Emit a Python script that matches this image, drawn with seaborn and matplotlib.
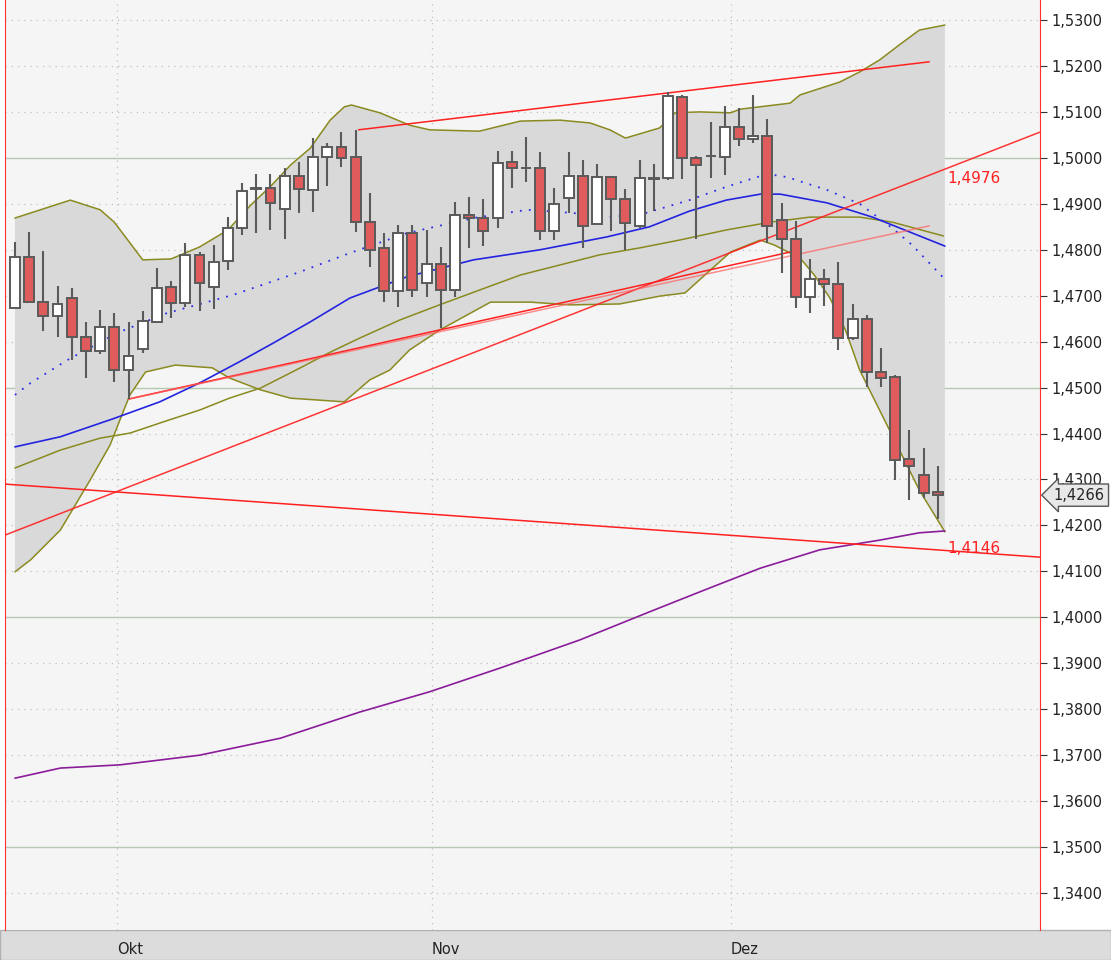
import matplotlib
matplotlib.use("Agg")
import matplotlib.pyplot as plt
import seaborn as sns
import numpy as np
import pandas as pd
from matplotlib.patches import Rectangle

# ---- daily candles (index 0..65) ----
opens = [1.4673,1.4784,1.4686,1.4656,1.4695,1.4610,1.4580,1.4632,1.4538,1.4584,
         1.4643,1.4719,1.4684,1.4789,1.4719,1.4776,1.4847,1.4934,1.4934,1.4889,
         1.4961,1.4930,1.5002,1.5024,1.5002,1.4860,1.4804,1.4710,1.4837,1.4728,
         1.4769,1.4712,1.4876,1.4869,1.4869,1.4991,1.4978,1.4978,1.4841,1.4913,
         1.4961,1.4856,1.4958,1.4910,1.4852,1.4956,1.4956,1.5132,1.5000,1.5004,
         1.5002,1.5067,1.5041,1.5048,1.4865,1.4823,1.4697,1.4736,1.4726,1.4608,
         1.4649,1.4534,1.4523,1.4345,1.4310,1.4273]
highs = [1.4817,1.4839,1.4797,1.4721,1.4717,1.4643,1.4669,1.4662,1.4643,1.4667,
         1.4760,1.4732,1.4815,1.4795,1.4810,1.4871,1.4945,1.4965,1.4965,1.4978,
         1.4991,1.5043,1.5032,1.5056,1.5061,1.4924,1.4837,1.4854,1.4854,1.4843,
         1.4806,1.4904,1.4915,1.4910,1.5015,1.5015,1.5045,1.5013,1.4934,1.5013,
         1.4995,1.4987,1.4961,1.4932,1.4995,1.4987,1.5143,1.5137,1.5004,1.5078,
         1.5113,1.5109,1.5137,1.5085,1.4902,1.4863,1.4780,1.4758,1.4773,1.4682,
         1.4658,1.4586,1.4528,1.4408,1.4369,1.4330]
lows = [1.4670,1.4684,1.4623,1.4610,1.4560,1.4521,1.4573,1.4512,1.4475,1.4575,
        1.4640,1.4652,1.4675,1.4667,1.4671,1.4756,1.4832,1.4837,1.4843,1.4823,
        1.4880,1.4882,1.4939,1.4980,1.4839,1.4763,1.4686,1.4675,1.4697,1.4697,
        1.4630,1.4697,1.4804,1.4808,1.4847,1.4934,1.4947,1.4821,1.4821,1.4880,
        1.4804,1.4854,1.4841,1.4800,1.4847,1.4884,1.4952,1.4954,1.4823,1.4956,
        1.4963,1.5026,1.5032,1.4815,1.4749,1.4673,1.4662,1.4678,1.4582,1.4604,
        1.4501,1.4501,1.4299,1.4255,1.4260,1.4214]
closes = [1.4784,1.4686,1.4656,1.4682,1.4610,1.4580,1.4632,1.4538,1.4569,1.4645,
          1.4717,1.4684,1.4789,1.4728,1.4773,1.4847,1.4928,1.4933,1.4902,1.4961,
          1.4932,1.5002,1.5024,1.5000,1.4860,1.4800,1.4710,1.4837,1.4712,1.4769,
          1.4712,1.4876,1.4869,1.4841,1.4989,1.4978,1.4977,1.4841,1.4900,1.4961,
          1.4852,1.4958,1.4910,1.4858,1.4956,1.4955,1.5135,1.5000,1.4984,1.5003,
          1.5067,1.5041,1.5048,1.4852,1.4823,1.4697,1.4736,1.4726,1.4608,1.4649,
          1.4534,1.4521,1.4343,1.4330,1.4271,1.4266]

# ---- indicator lines: (index, price) vertices ----
upper_x = [0,2.8,3.9,6,7,9,11,13,15,16.6,18.1,19.4,20.8,22.2,23.2,23.7,25.7,27.8,29.2,32.7,35.6,38.4,40.5,41.9,43,45.4,46.5,48.2,50.4,51.1,54.6,55.3,58.1,59.5,60.9,62.3,63.7,65.5]
upper_y = [1.4869,1.4897,1.4908,1.4887,1.4860,1.4778,1.4780,1.4806,1.4843,1.4897,1.4941,1.4984,1.5021,1.5082,1.5111,1.5115,1.5098,1.5071,1.5061,1.5058,1.5080,1.5082,1.5076,1.5061,1.5043,1.5065,1.5098,1.5100,1.5098,1.5106,1.5119,1.5137,1.5165,1.5187,1.5213,1.5246,1.5278,1.5289]
lower_x = [0,1.1,3.2,5.3,6.7,7.4,8.1,9.2,11.3,13.9,15.1,17.3,19.4,23.2,25,26.4,27.8,29.9,33.5,36.3,39.1,42.6,45.4,47.2,48.2,50.4,52.5,53.5,55.3,56.3,57.4,58.5,59.5,60.9,62.3,63.7,65.5]
lower_y = [1.4099,1.4125,1.4190,1.4299,1.4375,1.4430,1.4484,1.4534,1.4549,1.4543,1.4521,1.4495,1.4477,1.4469,1.4517,1.4538,1.4582,1.4625,1.4686,1.4686,1.4680,1.4682,1.4699,1.4706,1.4734,1.4795,1.4821,1.4810,1.4782,1.4745,1.4695,1.4625,1.4538,1.4451,1.4364,1.4277,1.4186]
mid_x = [0,3.2,6,8.1,10.9,13,15.1,17.3,20.1,22.2,24.3,27.1,29.9,32.7,35.6,38.4,41.2,44,46.8,50.1,53.2,56,59.5,61.8,65.4]
mid_y = [1.4325,1.4364,1.4390,1.4401,1.4430,1.4451,1.4477,1.4499,1.4543,1.4577,1.4608,1.4647,1.4680,1.4712,1.4745,1.4767,1.4789,1.4804,1.4821,1.4843,1.4860,1.4871,1.4871,1.4860,1.4830]
sma_x = [0,3.2,6.9,10.2,13,15.8,18.2,20.8,23.6,27.6,32.3,37,41.7,44.7,47.5,50.1,52.5,53.9,57.2,60.4,65.5]
sma_y = [1.4371,1.4393,1.4432,1.4469,1.4510,1.4556,1.4597,1.4643,1.4695,1.4741,1.4778,1.4800,1.4828,1.4850,1.4884,1.4908,1.4921,1.4921,1.4902,1.4871,1.4808]
dot_x = [0,1.1,3.7,7.2,10.7,15.4,20.1,23.6,27.6,32.3,36.1,39.3,41.7,44,47.5,50.1,53,54.4,57.2,59.5,61.8,63.2,65.4]
dot_y = [1.4484,1.4510,1.4560,1.4619,1.4662,1.4702,1.4752,1.4793,1.4836,1.4869,1.4887,1.4880,1.4871,1.4876,1.4908,1.4937,1.4965,1.4958,1.4930,1.4900,1.4847,1.4810,1.4739]
long_x = [0,3.2,7.4,13,18.7,24.3,29.2,34.2,39.8,44.7,48.2,52.5,56.7,60.9,63.7,65.5]
long_y = [1.3650,1.3672,1.3679,1.3700,1.3737,1.3794,1.3838,1.3890,1.3951,1.4012,1.4055,1.4107,1.4147,1.4168,1.4184,1.4188]

# trendlines: (x0, y0, x1, y1)
trend_top = (24.2, 1.5061, 64.4, 1.5209)
trend_long = (-0.7, 1.4179, 72.2, 1.5056)
trend_a = (8.0, 1.4475, 54.6, 1.4795)
trend_b = (8.0, 1.4475, 64.4, 1.4852)
trend_down = (-0.7, 1.4290, 72.2, 1.4131)

month_pos = [7.18, 29.37, 50.42]
month_labels = ["Okt", "Nov", "Dez"]
yticks = [1.34 + 0.01 * i for i in range(20)]

sns.set_style("white")
plt.rcParams['font.family'] = ['DejaVu Sans']

W, H = 1111, 960
fig = plt.figure(figsize=(W / 100, H / 100), dpi=100)
fig.patch.set_facecolor("white")
fig.patches.append(Rectangle((0, 0), 1, 30 / H, transform=fig.transFigure,
                             facecolor="#dcdcdc", edgecolor="#b0b0b0", zorder=-5))
ax = fig.add_axes([5 / W, 30 / H, 1035 / W, 930 / H])
ax.set_zorder(2)
ax.set_facecolor("#f5f5f5")
ax.set_xlim(-0.7, 72.2)
ax.set_ylim(1.33196, 1.53435)

for yt in yticks:
    if round(yt * 100) % 5 == 0:
        ax.axhline(yt, color="#b5c9b0", lw=1.0, zorder=1)
    else:
        ax.axhline(yt, color="#c0c0c0", lw=0.9, ls=(0, (1, 4)), zorder=1)
for mp in month_pos:
    ax.axvline(mp, color="#c0c0c0", lw=0.9, ls=(0, (1, 4)), zorder=1)

ax.fill(np.concatenate([upper_x, lower_x[::-1]]),
        np.concatenate([upper_y, lower_y[::-1]]),
        color="#d9d9d9", zorder=2, lw=0)
sns.lineplot(x=upper_x, y=upper_y, ax=ax, color="#8a8a20", lw=1.1, zorder=3, sort=False)
sns.lineplot(x=lower_x, y=lower_y, ax=ax, color="#8a8a20", lw=1.1, zorder=3, sort=False)
sns.lineplot(x=mid_x, y=mid_y, ax=ax, color="#8a8a20", lw=1.1, zorder=3, sort=False)
sns.lineplot(x=sma_x, y=sma_y, ax=ax, color="#2424e0", lw=1.2, zorder=3, sort=False)
ax.plot(dot_x, dot_y, color="#2a2ae8", lw=1.3, ls=(0, (1, 4)), zorder=3)
sns.lineplot(x=long_x, y=long_y, ax=ax, color="#8a1c9a", lw=1.2, zorder=3, sort=False)

for (x0, y0, x1, y1), c, a in [(trend_top, "#ff2020", 1), (trend_long, "#ff2020", 0.9),
                               (trend_a, "#ff2020", 1), (trend_b, "#ff6060", 0.7),
                               (trend_down, "#ff2020", 1)]:
    ax.plot([x0, x1], [y0, y1], color=c, alpha=a, lw=1.1, zorder=4)

w = 0.7
for i in range(len(opens)):
    o, h, l, c = opens[i], highs[i], lows[i], closes[i]
    ax.vlines(i, l, h, color="#5a5a5a", lw=1.5, zorder=5)
    bot, top = min(o, c), max(o, c)
    hgt = max(top - bot, 0.00008)
    fc = "white" if c >= o else "#e05c5c"
    ax.add_patch(Rectangle((i - w / 2, bot), w, hgt, facecolor=fc,
                           edgecolor="#5a5a5a", lw=1.4, zorder=6))

ax.text(65.7, 1.4976 - 0.0005, "1,4976", color="#ff2020", fontsize=11, va="top", zorder=7)
ax.text(65.7, 1.4146 + 0.0003, "1,4146", color="#ff2020", fontsize=11, va="center", zorder=7)

for s in ["top", "bottom"]:
    ax.spines[s].set_visible(False)
ax.spines["left"].set_color("#ff3030")
ax.spines["right"].set_color("#ff3030")
ax.yaxis.tick_right()
ax.set_yticks(yticks)
ax.set_yticklabels([f"{v:.4f}".replace(".", ",") for v in yticks])
ax.tick_params(axis="y", direction="out", length=5, color="#333333", labelsize=10.5,
               labelcolor="#222222", pad=3)
ax.set_xticks(month_pos)
ax.set_xticklabels(month_labels, ha="left")
ax.tick_params(axis="x", direction="out", length=6, color="#333333", labelsize=10.5,
               labelcolor="#222222", pad=3)
ax.annotate("1,4266", xy=(1.0, 1.4266), xycoords=("axes fraction", "data"),
            xytext=(10, 0), textcoords="offset points", va="center", fontsize=10.5,
            bbox=dict(boxstyle="larrow,pad=0.25", fc="#e8e8e8", ec="#555555"),
            annotation_clip=False)

fig.savefig("out.png", dpi=100)
